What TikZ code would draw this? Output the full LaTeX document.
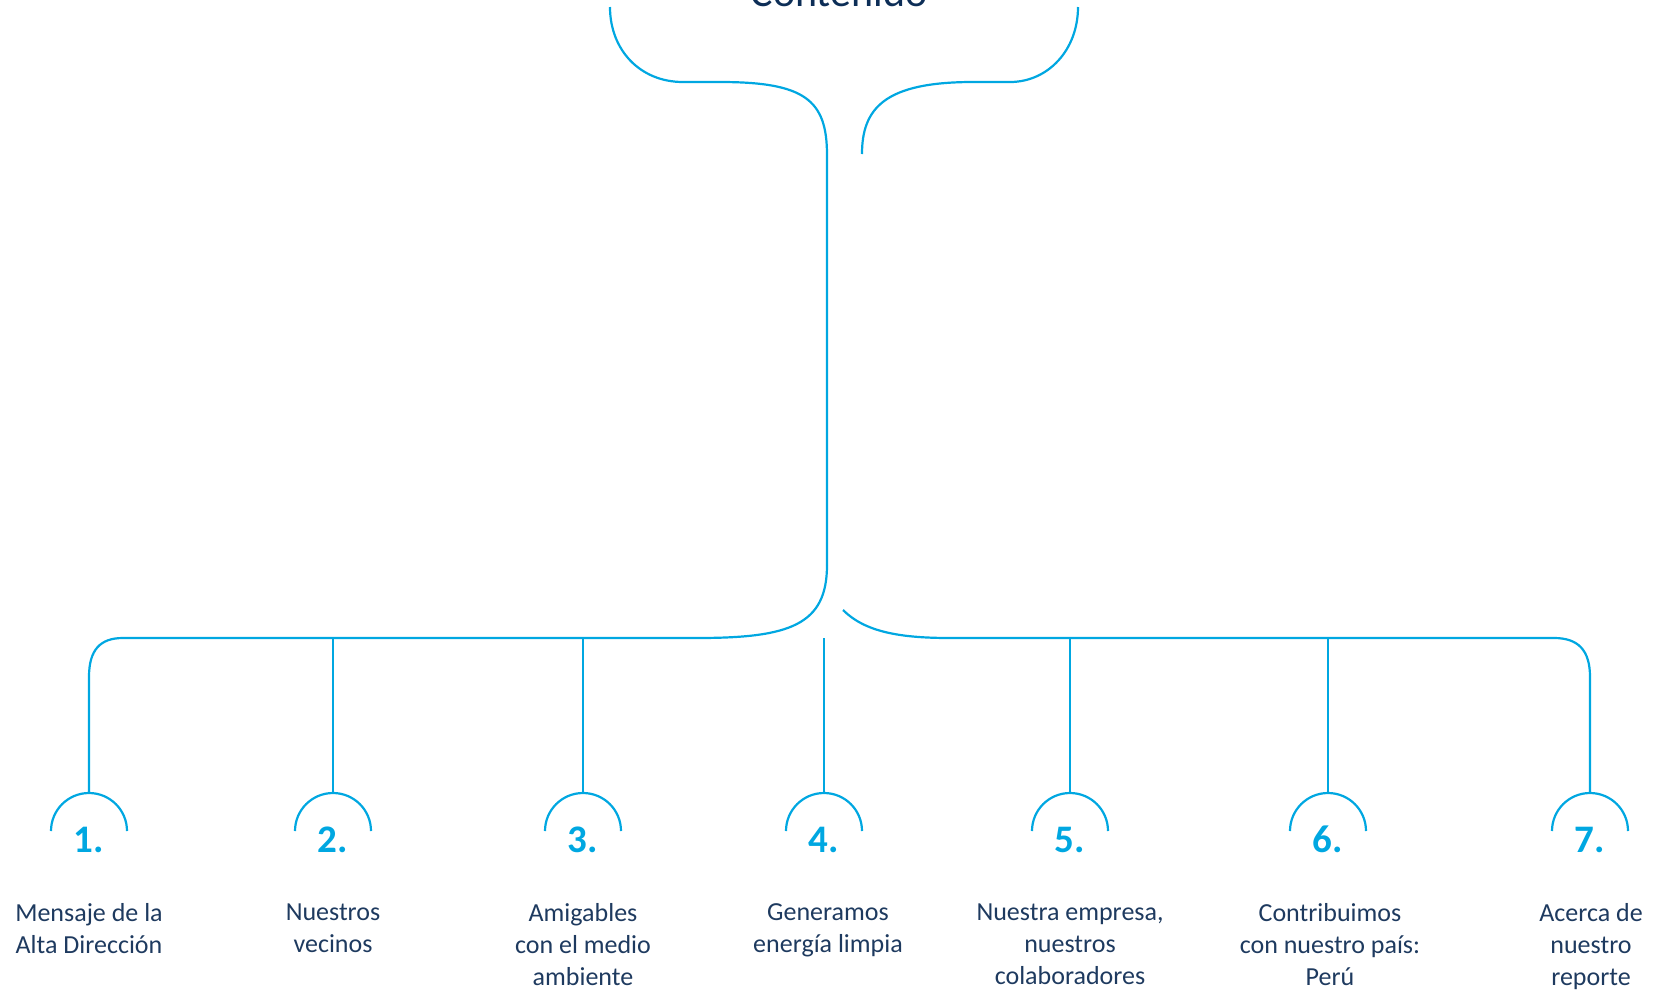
\documentclass[tikz,border=0pt]{standalone}
\usepackage{fontspec}
\setmainfont{Carlito}
\usepackage{xcolor}
\usepackage{tikz}
\usetikzlibrary{positioning}

\definecolor{linecyan}{HTML}{00A7E1}
\definecolor{textnavy}{HTML}{1E3A5F}
\definecolor{titlenavy}{HTML}{0D2E57}

\begin{document}
\begin{tikzpicture}[x=0.5pt,y=-0.5pt,
    branch/.style={draw=linecyan,line width=1.1pt},
    num/.style={anchor=base,inner sep=0pt,text=linecyan,font=\fontsize{19.5}{22}\selectfont\bfseries},
    lbl/.style={anchor=north,inner sep=0pt,align=center,text=textnavy,font=\fontsize{13}{16}\selectfont},
    ttl/.style={anchor=base,inner sep=0pt,text=titlenavy,font=\fontsize{21}{24}\selectfont}]
    \clip (0,0) rectangle (1656,992);
    \useasboundingbox (0,0) rectangle (1656,992);

    % title, cut at the top edge
    \node[ttl](title) at (839,6){Contenido};

    % brace
    \coordinate (lt) at (610,7);
    \coordinate (rt) at (1078,7);
    \coordinate (stem) at (827,155);
    \coordinate (stemend) at (862,154);
    \draw[branch] (lt) .. controls (610,50) and (640,82) .. (683,82) -- (720,82)
        .. controls (805,82) and (827,100) .. (stem) -- (827,565);
    \draw[branch] (rt) .. controls (1078,50) and (1048,82) .. (1010,82) -- (973,82)
        .. controls (885,82) and (862,108) .. (stemend);

    % items
    \foreach \i/\x in {1/89,2/333,3/583,4/824,5/1070,6/1328,7/1590}{
      \coordinate (a\i) at (\x,793);
      \coordinate (h\i) at (\x,638);
      \draw[branch] (\x-38,831) arc (180:360:38);
      \node[num](n\i) at (\x,852){\i.};
    }
    \node[lbl](l1) at (89,903){Mensaje de la\\Alta Dirección};
    \node[lbl](l2) at (333,903){Nuestros\\vecinos};
    \node[lbl](l3) at (583,903){Amigables\\con el medio\\ambiente};
    \node[lbl](l4) at (828,903){Generamos\\energía limpia};
    \node[lbl](l5) at (1070,903){Nuestra empresa,\\nuestros\\colaboradores};
    \node[lbl](l6) at (1330,903){Contribuimos\\con nuestro país:\\Perú};
    \node[lbl](l7) at (1591,903){Acerca de\\nuestro\\reporte};

    % lower branches
    \draw[branch] (827,565) .. controls (827,625) and (790,638) .. (697,638)
        -- (123,638) .. controls (100,638) and (89,650) .. (89,677) -- (a1);
    \draw[branch] (843,610) .. controls (865,632) and (900,638) .. (950,638)
        -- (1554,638) .. controls (1578,638) and (1590,650) .. (1590,677) -- (a7);
    \draw[branch] (h2) -- (a2);
    \draw[branch] (h3) -- (a3);
    \draw[branch] (h4) -- (a4);
    \draw[branch] (h5) -- (a5);
    \draw[branch] (h6) -- (a6);
\end{tikzpicture}
\end{document}
